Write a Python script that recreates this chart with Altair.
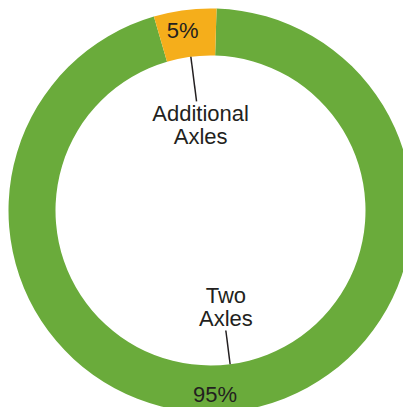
import math
import altair as alt
import pandas as pd

# ---- data ----
categories = ["Two Axles", "Additional Axles"]
values = [95, 5]
pct_labels = ["95%", "5%"]
callouts = ["Two\nAxles", "Additional\nAxles"]
colors = ["#6aab3b", "#f5ae1b"]

df = pd.DataFrame({
    "category": categories,
    "value": values,
    "pct": pct_labels,
    "callout": callouts,
    "ord": list(range(len(categories))),
})

OFF = 0.03
CX, CY = 200.5, 202.5
FONT = "Liberation Sans"
TXT = "#231f20"

base = alt.Chart(df)
theta = alt.Theta("value:Q", stack=True,
                  scale=alt.Scale(range=[OFF, OFF + 2 * math.pi]))
order = alt.Order("ord:Q")
cx = alt.value(CX)
cy = alt.value(CY)

arc = base.mark_arc(innerRadius=155, outerRadius=202).encode(
    theta=theta, order=order, x=cx, y=cy,
    color=alt.Color("category:N",
                    scale=alt.Scale(domain=categories, range=colors),
                    legend=None),
)

def text_layer(cat, field, radius, dx=0, dy=0):
    return base.mark_text(radius=radius, fontSize=22, font=FONT, color=TXT,
                          lineBreak="\n", lineHeight=23, dx=dx, dy=dy,
                          baseline="middle", align="center").encode(
        theta=theta, order=order, x=cx, y=cy,
        text=alt.condition(alt.datum.category == cat,
                           alt.Text(f"{field}:N"), alt.value("")),
    )

pct_orange = text_layer("Additional Axles", "pct", 181, dx=-5)
pct_green = text_layer("Two Axles", "pct", 186, dx=-19)
call_orange = text_layer("Additional Axles", "callout", 86, dx=1, dy=-11.5)
call_green = text_layer("Two Axles", "callout", 98, dx=3, dy=-11.5)

rules = base.transform_window(
    cum="sum(value)", sort=[alt.SortField("ord")], frame=[None, 0]
).transform_joinaggregate(
    total="sum(value)"
).transform_calculate(
    ang=f"{OFF} + 2*PI*(datum.cum - datum.value/2)/datum.total",
    r1="datum.category == 'Two Axles' ? 121 : 110",
).transform_calculate(
    xa=f"{CX} + datum.r1*sin(datum.ang)",
    ya=f"{CY} - datum.r1*cos(datum.ang)",
    xb=f"{CX} + 155*sin(datum.ang)",
    yb=f"{CY} - 155*cos(datum.ang)",
).mark_rule(color=TXT, strokeWidth=1.5).encode(
    x=alt.X("xa:Q", scale=None), y=alt.Y("ya:Q", scale=None),
    x2="xb:Q", y2="yb:Q",
)

chart = alt.layer(arc, rules, pct_orange, pct_green, call_orange, call_green).properties(
    width=395, height=399, padding=0,
    autosize=alt.AutoSizeParams(type="fit", contains="padding"),
).configure_view(stroke=None)

chart.save("out.html", embed_options={"renderer": "svg", "actions": False})
